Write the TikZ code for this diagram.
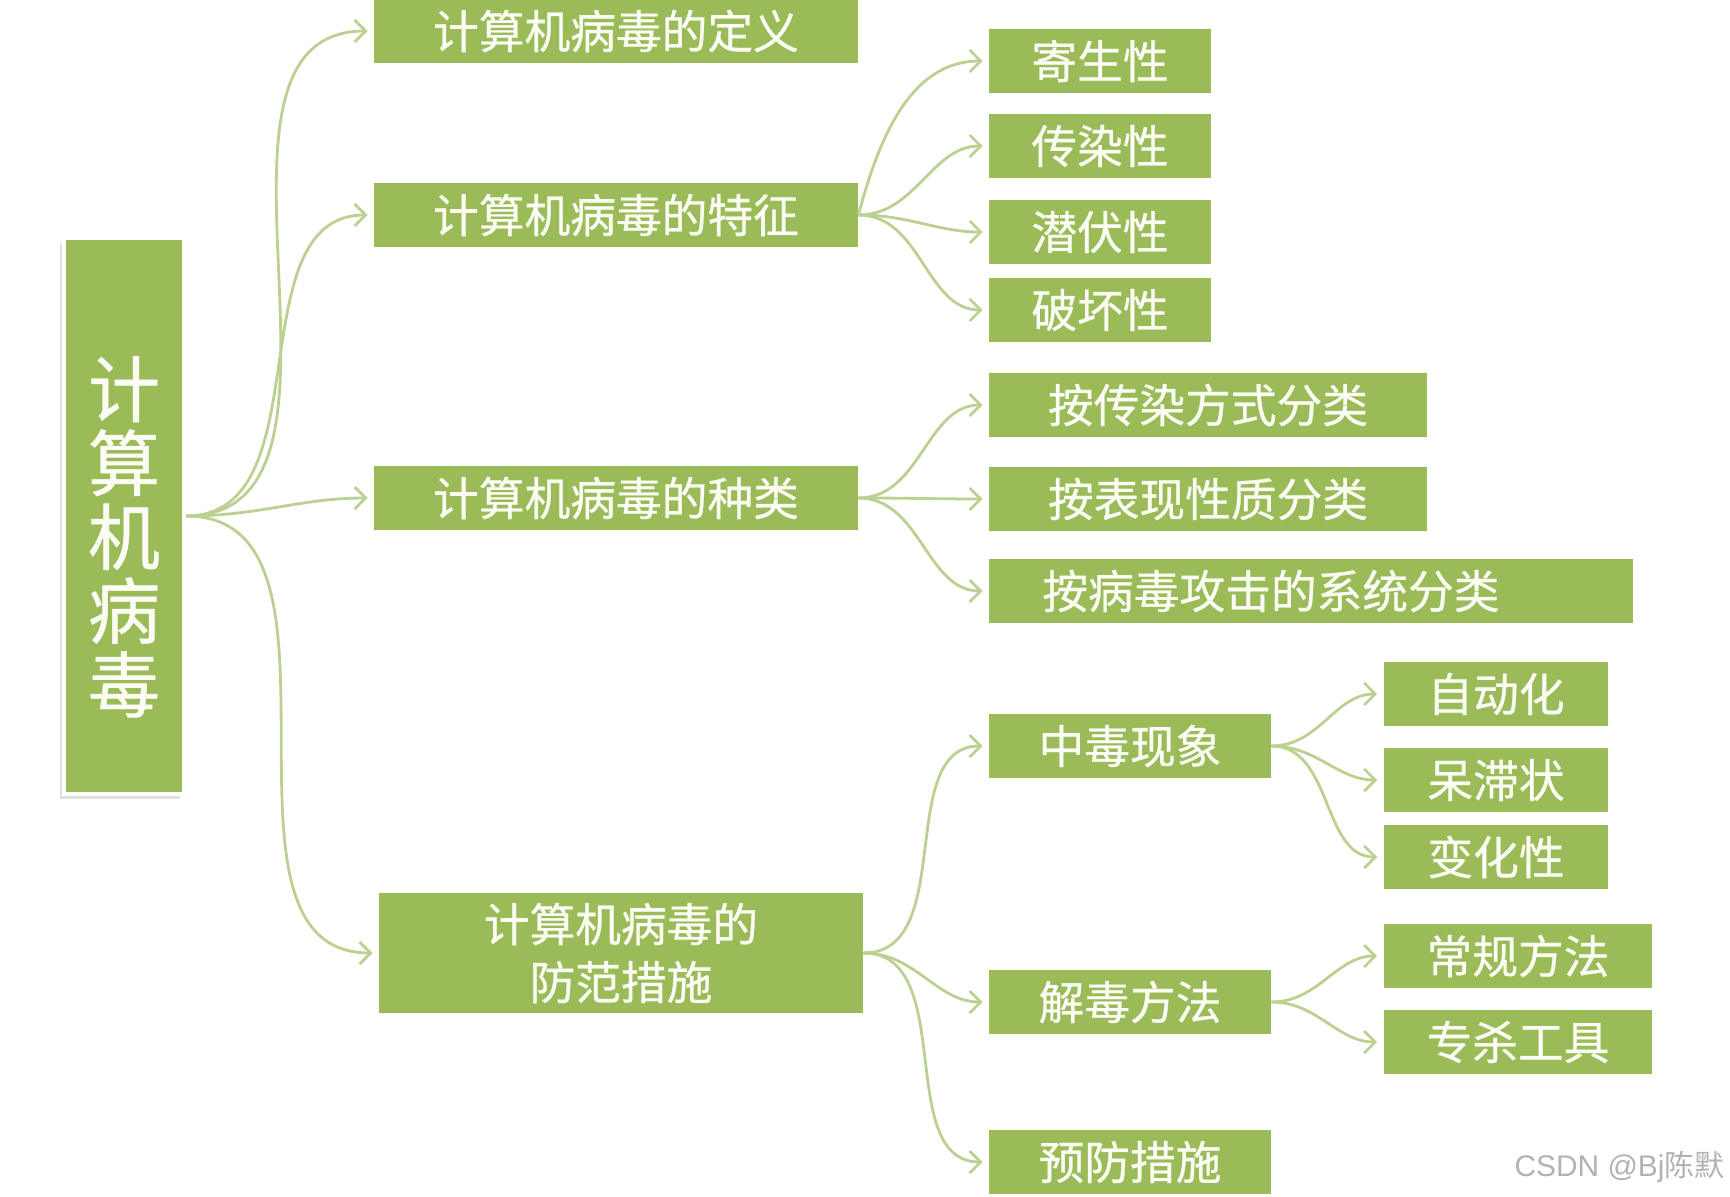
\documentclass[tikz,border=0pt]{standalone}
\usepackage{fontspec}
\setmainfont{Noto Sans CJK SC}[FakeBold=0.6]
\newfontfamily\latinfont{Liberation Sans}
\newfontfamily\markfont{Noto Sans CJK SC}
\usetikzlibrary{arrows.meta,shadows}
\definecolor{leaf}{HTML}{9BBB59}
\definecolor{stem}{HTML}{BCD191}
\definecolor{chalk}{HTML}{FBFCF4}
\tikzset{box/.style={fill=leaf,text=chalk,font=\fontsize{13pt}{16.5pt}\selectfont,inner sep=0pt,minimum height=0.64cm,align=center},rootbox/.style={box,draw=white,line width=1.2pt,drop shadow={shadow xshift=-.4mm,shadow yshift=-.5mm,fill=black!30,opacity=.4},font=\fontsize{20.5pt}{21pt}\selectfont},arr/.style={-{Straight Barb[length=1.1mm,width=2.2mm]},draw=stem,line width=0.8pt,shorten >=0.6mm}}

\begin{document}
\begin{tikzpicture}[x=0.01cm,y=-0.01cm]
\useasboundingbox (0,0) rectangle (1730,1197);
% root
\node[rootbox,minimum width=1.2cm,minimum height=5.55cm] (virus) at (124,516) {\rule{0pt}{29pt}计\\算\\机\\病\\毒};
% first level
\node[box,minimum width=4.83cm,minimum height=0.63cm] (define) at (616,31) {计算机病毒的定义};
\node[box,minimum width=4.83cm] (feature) at (616,215) {计算机病毒的特征};
\node[box,minimum width=4.83cm] (kind) at (616,498) {计算机病毒的种类};
\node[box,minimum width=4.83cm,minimum height=1.19cm] (guard) at (621,953) {计算机病毒的\\防范措施};
% features
\node[box,minimum width=2.21cm] (parasite) at (1100,61) {寄生性};
\node[box,minimum width=2.21cm] (infect) at (1100,146) {传染性};
\node[box,minimum width=2.21cm] (latent) at (1100,232) {潜伏性};
\node[box,minimum width=2.21cm] (damage) at (1100,310) {破坏性};
% kinds
\node[box,minimum width=4.37cm] (bymode) at (1208,405) {按传染方式分类};
\node[box,minimum width=4.37cm] (bynature) at (1208,499) {按表现性质分类};
\node[box,text width=5.37cm,inner xsep=0.53cm,align=left] (bysystem) at (1311,591) {按病毒攻击的系统分类};
% measures
\node[box,minimum width=2.81cm] (symptom) at (1130,746) {中毒现象};
\node[box,minimum width=2.81cm] (cure) at (1130,1002) {解毒方法};
\node[box,minimum width=2.81cm] (prevent) at (1130,1162) {预防措施};
\node[box,minimum width=2.24cm] (auto) at (1496,694) {自动化};
\node[box,minimum width=2.24cm] (stuck) at (1496,780) {呆滞状};
\node[box,minimum width=2.24cm] (change) at (1496,857) {变化性};
\node[box,minimum width=2.68cm] (usual) at (1518,956) {常规方法};
\node[box,minimum width=2.68cm] (tool) at (1518,1042) {专杀工具};
% watermark
\node[text=black!30,font=\fontsize{8.5pt}{10pt}\selectfont,anchor=east,inner sep=0pt] (mark) at (1725,1167) {{\latinfont CSDN @Bj}\markfont 陈默};
% connectors
\foreach \t in {define,feature,kind,guard}{\draw[arr] (virus.east) to[out=0,in=180] (\t.west);}
\draw[arr] (feature.east) to[out=75,in=180] (parasite.west);
\foreach \t in {infect,latent,damage}{\draw[arr] (feature.east) to[out=0,in=180] (\t.west);}
\foreach \t in {bymode,bynature,bysystem}{\draw[arr] (kind.east) to[out=0,in=180] (\t.west);}
\foreach \t in {symptom,cure,prevent}{\draw[arr] (guard.east) to[out=0,in=180] (\t.west);}
\foreach \t in {auto,stuck,change}{\draw[arr] (symptom.east) to[out=0,in=180] (\t.west);}
\foreach \t in {usual,tool}{\draw[arr] (cure.east) to[out=0,in=180] (\t.west);}
\end{tikzpicture}
\end{document}
